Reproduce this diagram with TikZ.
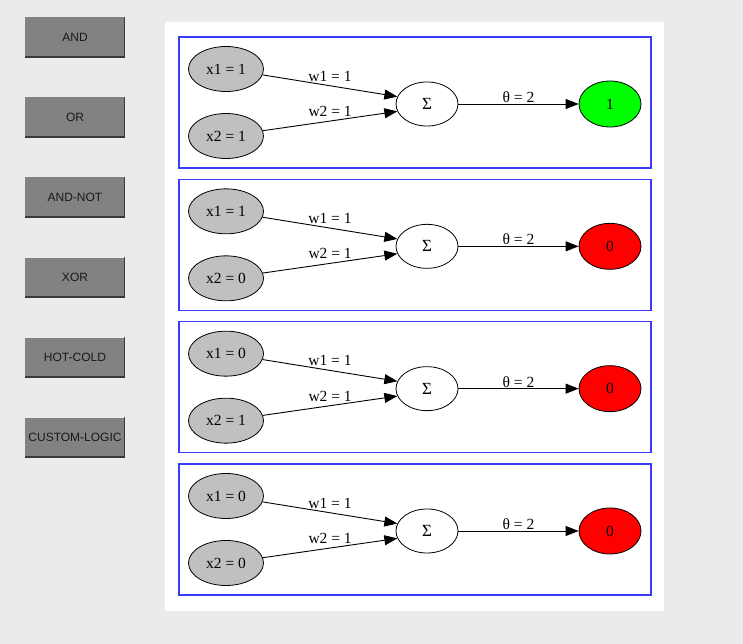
\documentclass[tikz,border=0pt]{standalone}
\usepackage{fontspec}
\setmainfont{Liberation Serif}
\newfontfamily\btnfont{Liberation Sans}
\usetikzlibrary{arrows.meta,shapes.geometric}
\definecolor{bgcol}{HTML}{EBEBEB}
\definecolor{btncol}{HTML}{828282}
\definecolor{btnshadow}{HTML}{3A3A3A}
\definecolor{incol}{HTML}{C0C0C0}
\definecolor{oncol}{HTML}{00FF00}
\definecolor{offcol}{HTML}{FF0000}
\definecolor{clustcol}{HTML}{3A3AFF}
\tikzset{
  btn/.style={fill=btncol, minimum width=100pt, minimum height=40pt, inner sep=0pt,
    font=\btnfont\fontsize{12pt}{14pt}\selectfont, text=black!90},
  gnode/.style={ellipse, draw=black, line width=0.8pt, inner sep=0pt,
    font=\fontsize{15.5pt}{18pt}\selectfont},
  innode/.style={gnode, fill=incol, minimum width=75pt, minimum height=45pt},
  sumnode/.style={gnode, fill=white, minimum width=62pt, minimum height=44pt,
    font=\fontsize{17pt}{18pt}\selectfont},
  outnode/.style={gnode, minimum width=62pt, minimum height=46pt},
  edge/.style={draw=black, line width=0.9pt, -{Triangle[length=13pt,width=10pt]}},
  elabel/.style={font=\fontsize{15.5pt}{18pt}\selectfont, inner sep=1pt},
  clust/.style={draw=clustcol, line width=1.1pt}
}
\begin{document}
\begin{tikzpicture}[x=1pt,y=-1pt]
\useasboundingbox (0,0) rectangle (743,644);
\fill[bgcol] (0,0) rectangle (743,644);
\fill[white] (165,22) rectangle (664,611);
% buttons
\foreach \lab [count=\k from 0] in {AND,OR,AND-NOT,XOR,HOT-COLD,CUSTOM-LOGIC}{
  \node[btn] (b\k) at (75,{37.5+80*\k}) {\lab};
  \draw[btnshadow, line width=1.5pt] ([yshift=0.75pt]b\k.south west) -- ([xshift=-0.75pt,yshift=0.75pt]b\k.south east) -- ([xshift=-0.75pt]b\k.north east);
}
% clusters
\foreach \i/\a/\b/\o/\c in {0/1/1/1/oncol,1/1/0/0/offcol,2/0/1/0/offcol,3/0/0/0/offcol}{
  \pgfmathsetmacro{\t}{37+142.33*\i}
  \draw[clust] (179,\t) rectangle (651,\t+131);
  \node[innode] (xa\i) at (226,\t+32) {x1 = \a};
  \node[innode] (xb\i) at (226,\t+99) {x2 = \b};
  \node[sumnode] (s\i) at (427,\t+67) {Σ};
  \node[outnode, fill=\c] (o\i) at (610,\t+67) {\o};
  \draw[edge] (xa\i) -- (s\i.166) node[elabel, midway, above=3pt] (la\i) {w1 = 1};
  \draw[edge] (xb\i) -- (s\i.194) node[elabel, midway, above=3pt] (lb\i) {w2 = 1};
  \draw[edge] (s\i) -- (o\i) node[elabel, midway, above=0pt] (lt\i) {θ = 2};
}
\end{tikzpicture}
\end{document}
